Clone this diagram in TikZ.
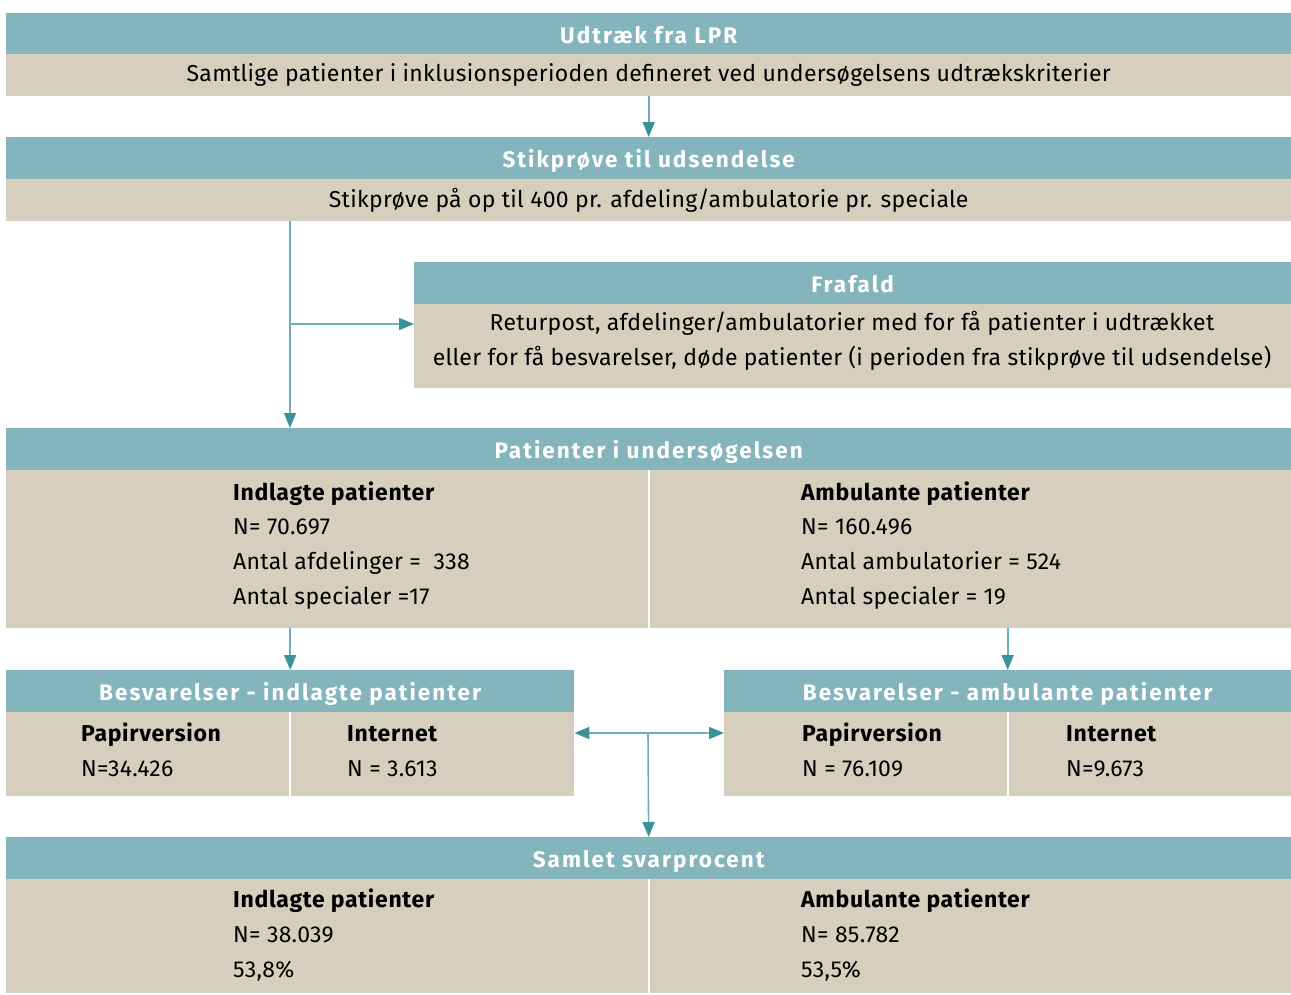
\documentclass[tikz,border=0pt]{standalone}
\usepackage{fontspec}
\setmainfont{Fira Sans}[LetterSpace=1.2]
\newfontfamily\hdrfont{Fira Sans}[LetterSpace=9]
\newfontfamily\fedfont{Fira Sans}[LetterSpace=3]
\usetikzlibrary{arrows.meta, positioning}

\definecolor{hdrcol}{HTML}{84B5BC}
\definecolor{bodycol}{HTML}{D7CFBE}
\definecolor{linecol}{HTML}{6DB0B6}
\definecolor{tipcol}{HTML}{3A9399}

\newcommand{\fed}[1]{{\fedfont\bfseries #1}}

\tikzset{
  hdr/.style={fill=hdrcol, text=white, anchor=north west, inner sep=0pt,
    minimum height=42pt, text height=20pt, text depth=2.4pt,
    font=\fontsize{22.5}{25}\hdrfont\bfseries},
  bdy/.style={fill=bodycol, anchor=north west, inner sep=0pt,
    font=\fontsize{23}{34}\selectfont, align=center},
  lst/.style={anchor=base west, inner sep=0pt,
    font=\fontsize{23}{34.6}\selectfont, align=left},
  skille/.style={draw=white, line width=2pt},
  conn/.style={draw=linecol, line width=1.6pt},
  arr/.style={conn, -{Triangle[length=15pt, width=12pt, color=tipcol]}},
}

\begin{document}
\begin{tikzpicture}[x=1pt, y=-1pt]
    \useasboundingbox (0,0) rectangle (1291,994);

    % udtraek
    \node[hdr, minimum width=1285pt] (lprh) at (6,13) {Udtræk fra LPR};
    \node[bdy, minimum width=1285pt, minimum height=42pt] (lprb) at (6,54)
        {Samtlige patienter i inklusionsperioden defineret ved undersøgelsens udtrækskriterier};

    % stikproeve
    \node[hdr, minimum width=1285pt] (stikh) at (6,137) {Stikprøve til udsendelse};
    \node[bdy, minimum width=1285pt, minimum height=42pt] (stikb) at (6,179)
        {Stikprøve på op til 400 pr. afdeling/ambulatorie pr. speciale};

    % frafald
    \node[hdr, minimum width=877pt] (frafh) at (414,262) {Frafald};
    \node[bdy, minimum width=877pt, minimum height=84pt] (frafb) at (414,304) {};
    \node[lst, anchor=base, align=center] (fraftxt) at (852,365)
        {Returpost, afdelinger/ambulatorier med for få patienter i udtrækket\\
         eller for få besvarelser, døde patienter (i perioden fra stikprøve til udsendelse)};

    % patienter i undersoegelsen
    \node[hdr, minimum width=1285pt] (path) at (6,428) {Patienter i undersøgelsen};
    \node[bdy, minimum width=1285pt, minimum height=158pt] (patb) at (6,470) {};
    \draw[skille] (patb.north) -- (patb.south);
    \node[lst] (patind) at (233,604)
        {\fed{Indlagte patienter}\\N= 70.697\\Antal afdelinger =\ \ 338\\Antal specialer =17};
    \node[lst] (patamb) at (801,604)
        {\fed{Ambulante patienter}\\N= 160.496\\Antal ambulatorier = 524\\Antal specialer = 19};

    % besvarelser
    \node[hdr, minimum width=568pt] (besvih) at (6,670) {Besvarelser - indlagte patienter};
    \node[bdy, minimum width=568pt, minimum height=84pt] (besvib) at (6,712) {};
    \draw[skille] (besvib.north) -- (besvib.south);
    \node[lst] (besvip) at (81,776) {\fed{Papirversion}\\N=34.426};
    \node[lst] (besvii) at (347,776) {\fed{Internet}\\N = 3.613};

    \node[hdr, minimum width=567pt] (besvah) at (724,670) {Besvarelser - ambulante patienter};
    \node[bdy, minimum width=567pt, minimum height=84pt] (besvab) at (724,712) {};
    \draw[skille] (besvab.north) -- (besvab.south);
    \node[lst] (besvap) at (802,776) {\fed{Papirversion}\\N = 76.109};
    \node[lst] (besvai) at (1066,776) {\fed{Internet}\\N=9.673};

    % samlet
    \node[hdr, minimum width=1285pt] (samh) at (6,837) {Samlet svarprocent};
    \node[bdy, minimum width=1285pt, minimum height=114pt] (samb) at (6,879) {};
    \draw[skille] (samb.north) -- (samb.south);
    \node[lst] (samind) at (233,977) {\fed{Indlagte patienter}\\N= 38.039\\53,8\%};
    \node[lst] (samamb) at (801,977) {\fed{Ambulante patienter}\\N= 85.782\\53,5\%};

    % forbindelser
    \coordinate (gren) at (290,324);
    \coordinate (kryds) at (648,733);
    \draw[arr] (lprb.south) -- (stikh.north);
    \draw[conn] (stikb.south -| gren) -- (gren);
    \draw[arr] (gren) -- (path.north -| gren);
    \draw[arr] (gren) -- (frafb.west |- gren);
    \draw[arr] (patb.south -| besvih.north) -- (besvih.north);
    \draw[arr] (patb.south -| besvah.north) -- (besvah.north);
    \draw[arr] (kryds) -- (besvib.east |- kryds);
    \draw[arr] (kryds) -- (besvab.west |- kryds);
    \draw[arr] (kryds) -- (samh.north);
\end{tikzpicture}
\end{document}
